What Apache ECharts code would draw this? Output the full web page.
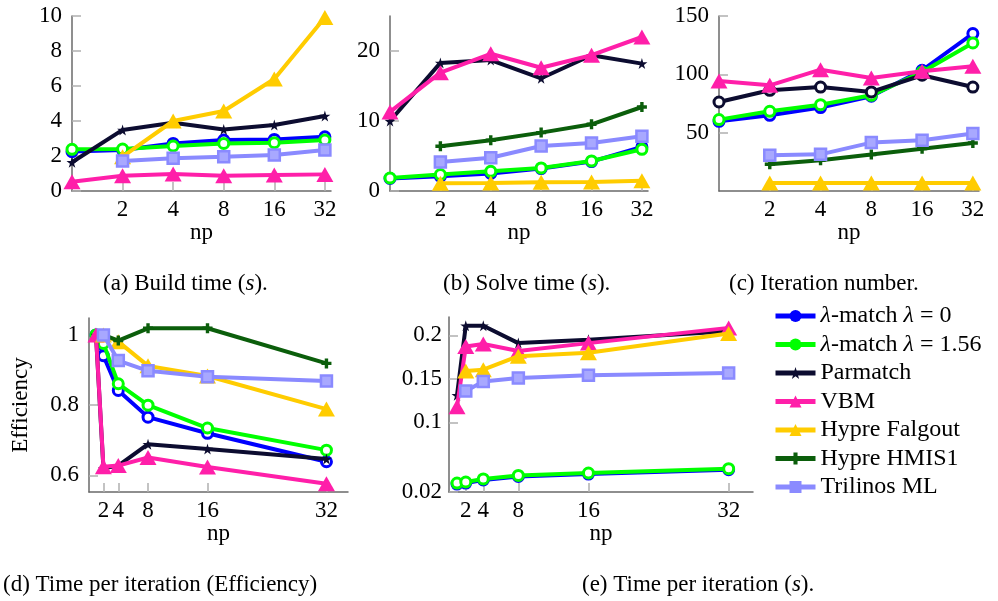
<!DOCTYPE html>
<html><head><meta charset="utf-8">
<script src="https://cdn.jsdelivr.net/npm/echarts@6/dist/echarts.min.js"></script>
<style>html,body{margin:0;padding:0;background:#fff}#c{width:998px;height:601px}</style>
</head><body><div id="c"></div>
<script>
// ---------- data ----------
const npValues = [1, 2, 4, 8, 16, 32];
const xTickValues = [2, 4, 8, 16, 32];
const methodNames = ['λ-match λ = 0', 'λ-match λ = 1.56', 'Parmatch', 'VBM', 'Hypre Falgout', 'Hypre HMIS1', 'Trilinos ML'];

// (a) Build time (s)
const buildLam0     = [2.25, 2.34, 2.72, 2.91, 2.95, 3.10];
const buildLam156   = [2.38, 2.40, 2.57, 2.72, 2.76, 2.91];
const buildParmatch = [1.64, 3.49, 3.90, 3.52, 3.77, 4.29];
const buildVBM      = [0.53, 0.87, 0.97, 0.87, 0.91, 0.95];
const buildFalgout  = [null, 1.96, 4.00, 4.57, 6.40, 9.92];
const buildTrilinos = [null, 1.71, 1.87, 1.96, 2.06, 2.34];

// (b) Solve time (s)
const solveLam0     = [1.80, 2.10, 2.50, 3.20, 4.20, 6.30];
const solveLam156   = [1.86, 2.34, 2.81, 3.29, 4.29, 5.96];
const solveParmatch = [10.0, 18.3, 18.7, 16.1, 19.4, 18.2];
const solveVBM      = [11.3, 16.9, 19.6, 17.6, 19.4, 22.0];
const solveFalgout  = [null, 1.12, 1.13, 1.25, 1.28, 1.45];
const solveHMIS1    = [null, 6.4, 7.24, 8.34, 9.53, 12.0];
const solveTrilinos = [null, 4.14, 4.76, 6.43, 6.86, 7.81];

// (c) Iteration number
const iterLam0     = [59.7, 64.9, 71.5, 81.2, 103.5, 134.9];
const iterLam156   = [61.2, 68.3, 74.0, 82.0, 102.0, 126.9];
const iterParmatch = [76.3, 86.3, 89.1, 84.9, 99.2, 89.1];
const iterVBM      = [94.3, 90.6, 104.0, 96.9, 102.6, 106.9];
const iterFalgout  = [null, 6.8, 6.8, 6.8, 6.8, 6.8];
const iterHMIS1    = [null, 22.9, 26.3, 31.2, 36.3, 41.2];
const iterTrilinos = [null, 30.6, 31.4, 41.5, 43.5, 49.2];

// (d) Efficiency
const effLam0     = [1.0, 0.941, 0.842, 0.766, 0.720, 0.639];
const effLam156   = [1.0, 0.976, 0.861, 0.800, 0.735, 0.672];
const effParmatch = [1.0, 0.620, 0.628, 0.689, 0.675, 0.647];
const effVBM      = [1.0, 0.625, 0.628, 0.651, 0.624, 0.576];
const effFalgout  = [null, 1.0, 0.981, 0.912, 0.883, 0.789];
const effHMIS1    = [null, 1.0, 0.984, 1.019, 1.019, 0.919];
const effTrilinos = [null, 1.0, 0.927, 0.898, 0.881, 0.869];

// (e) Time per iteration (s)
const tpiLam0     = [0.0291, 0.0303, 0.0338, 0.0378, 0.0406, 0.0456];
const tpiLam156   = [0.0303, 0.0315, 0.0350, 0.0390, 0.0418, 0.0468];
const tpiParmatch = [0.131, 0.211, 0.211, 0.191, 0.195, 0.2046];
const tpiVBM      = [0.118, 0.187, 0.190, 0.182, 0.191, 0.2085];
const tpiFalgout  = [null, 0.159, 0.1605, 0.176, 0.180, 0.202];
const tpiTrilinos = [null, 0.136, 0.147, 0.151, 0.154, 0.1568];

// ---------- styling ----------
const FONT = '"Liberation Serif", "Times New Roman", serif';
const colors = ['#0000ff', '#00ff00', '#0c0c30', '#ff1fa9', '#ffcc00', '#0b5e0b', '#8a8aff'];
const STAR = 'path://M50,0 L61,35 L98,35 L68,57 L79,91 L50,70 L21,91 L32,57 L2,35 L39,35 Z';
const PLUS = 'path://M33,0 H67 V33 H100 V67 H67 V100 H33 V67 H0 V33 H33 Z';

function markStyle(m, panel) {
  const c = colors[m];
  if (m === 0 || m === 1 || (m === 2 && panel === 2)) {
    return { symbol: 'circle', symbolSize: 10, itemStyle: { color: '#ffffff', borderColor: c, borderWidth: 3 } };
  }
  if (m === 2) return { symbol: STAR, symbolSize: 11, itemStyle: { color: c } };
  if (m === 3 || m === 4) return { symbol: 'triangle', symbolSize: [17, 15], itemStyle: { color: c } };
  if (m === 5) return { symbol: PLUS, symbolSize: 10, itemStyle: { color: c } };
  return { symbol: 'rect', symbolSize: 11, itemStyle: { color: '#a8a8ff', borderColor: c, borderWidth: 2.5 } };
}

const panels = [
  [[0, buildLam0], [1, buildLam156], [2, buildParmatch], [3, buildVBM], [4, buildFalgout], [6, buildTrilinos]],
  [[0, solveLam0], [1, solveLam156], [2, solveParmatch], [3, solveVBM], [4, solveFalgout], [5, solveHMIS1], [6, solveTrilinos]],
  [[0, iterLam0], [1, iterLam156], [2, iterParmatch], [3, iterVBM], [4, iterFalgout], [5, iterHMIS1], [6, iterTrilinos]],
  [[0, effLam0], [1, effLam156], [2, effParmatch], [3, effVBM], [4, effFalgout], [5, effHMIS1], [6, effTrilinos]],
  [[0, tpiLam0], [1, tpiLam156], [2, tpiParmatch], [3, tpiVBM], [4, tpiFalgout], [6, tpiTrilinos]]
];

const series = [];
panels.forEach((list, p) => {
  list.forEach(([m, arr]) => {
    const ms = markStyle(m, p);
    series.push(Object.assign({
      type: 'line', name: methodNames[m], xAxisIndex: p, yAxisIndex: p,
      color: colors[m],
      data: npValues.map((x, i) => arr[i] == null ? null : [x, arr[i]]).filter(d => d),
      lineStyle: { color: colors[m], width: 4 },
      showAllSymbol: true, clip: false, animation: false,
      emphasis: { disabled: true }, z: 2 + m * 0.1
    }, ms));
  });
});

const grids = [
  { left: 72, top: 16, width: 259, height: 175 },
  { left: 390, top: 16, width: 258, height: 175 },
  { left: 719, top: 16, width: 260, height: 175 },
  { left: 89, top: 318, width: 259, height: 174 },
  { left: 449, top: 317, width: 304, height: 175 }
];

const axisLineStyle = { show: true, lineStyle: { color: '#6a6a6a', width: 1.5 } };
const labelBase = { color: '#000', fontFamily: FONT, fontSize: 23 };

function xAxis(i, isLog, min, max) {
  const a = {
    gridIndex: i, min: min, max: max, type: isLog ? 'log' : 'value',
    name: 'np', nameLocation: 'middle', nameGap: 30,
    nameTextStyle: { color: '#000', fontFamily: FONT, fontSize: 23 },
    axisLine: axisLineStyle,
    axisTick: { show: true, inside: true, length: 9, customValues: xTickValues, lineStyle: { color: '#b0b0b0', width: 1.5 } },
    axisLabel: Object.assign({ customValues: xTickValues, margin: 7 }, labelBase),
    splitLine: { show: false }
  };
  if (isLog) a.logBase = 2;
  return a;
}
function yAxis(i, min, max, ticks, extra) {
  return Object.assign({
    gridIndex: i, type: 'value', min: min, max: max,
    axisLine: axisLineStyle,
    axisTick: { show: true, inside: true, length: 9, customValues: ticks, lineStyle: { color: '#b0b0b0', width: 1.5 } },
    axisLabel: Object.assign({ customValues: ticks, margin: 10 }, labelBase),
    splitLine: { show: false }
  }, extra || {});
}

const yTicksA = [0, 2, 4, 6, 8, 10];
const yTicksB = [0, 10, 20];
const yTicksC = [50, 100, 150];
const yTicksD = [0.6, 0.8, 1];
const yTicksE = [0.02, 0.1, 0.15, 0.2];

const capFont = { fontFamily: FONT, fontSize: 23, fill: '#000' };
function caption(x, y, text) {
  return {
    type: 'text', x: x, y: y, silent: true,
    style: Object.assign({ text: text, verticalAlign: 'middle', align: 'left',
      rich: { i: { fontStyle: 'italic', fontFamily: FONT, fontSize: 23 } } }, capFont)
  };
}

const chart = echarts.init(document.getElementById('c'));
chart.setOption({
  animation: false,
  backgroundColor: '#ffffff',
  grid: grids,
  xAxis: [
    xAxis(0, true, 1, 34.8), xAxis(1, true, 1, 34.8), xAxis(2, true, 1, 34.8),
    xAxis(3, false, 0.06, 34.9), xAxis(4, false, 0.086, 34.78)
  ],
  yAxis: [
    yAxis(0, 0, 10, yTicksA),
    yAxis(1, 0, 25, yTicksB),
    yAxis(2, 0, 150, yTicksC),
    yAxis(3, 0.5528, 1.0483, yTicksD, { name: 'Efficiency', nameLocation: 'middle', nameGap: 57,
      nameTextStyle: { color: '#000', fontFamily: FONT, fontSize: 23 } }),
    yAxis(4, 0.02, 0.221, yTicksE, { axisLabel: Object.assign({ customValues: yTicksE, margin: 7 }, labelBase) })
  ],
  legend: {
    orient: 'vertical', left: 773, top: 304, padding: 0, itemWidth: 40, itemHeight: 15, itemGap: 4.5, itemTextGap: 8,
    selectedMode: false,
    data: methodNames.map((n, i) => ({ name: n, itemStyle: { color: colors[i], borderWidth: 0 },
      lineStyle: { color: colors[i], width: 5 } })),
    lineStyle: { width: 5 },
    formatter: function (name) { return name.replace(/λ/g, '{i|λ}'); },
    textStyle: { color: '#000', fontFamily: FONT, fontSize: 24, lineHeight: 24,
      rich: { i: { fontStyle: 'italic', fontFamily: FONT, fontSize: 24, lineHeight: 24 } } }
  },
  graphic: [
    caption(103, 284, '(a) Build time ({i|s}).'),
    caption(443, 284, '(b) Solve time ({i|s}).'),
    caption(729, 284, '(c) Iteration number.'),
    caption(3, 585, '(d) Time per iteration (Efficiency)'),
    caption(582, 585, '(e) Time per iteration ({i|s}).')
  ],
  series: series
});
</script>
</body></html>
